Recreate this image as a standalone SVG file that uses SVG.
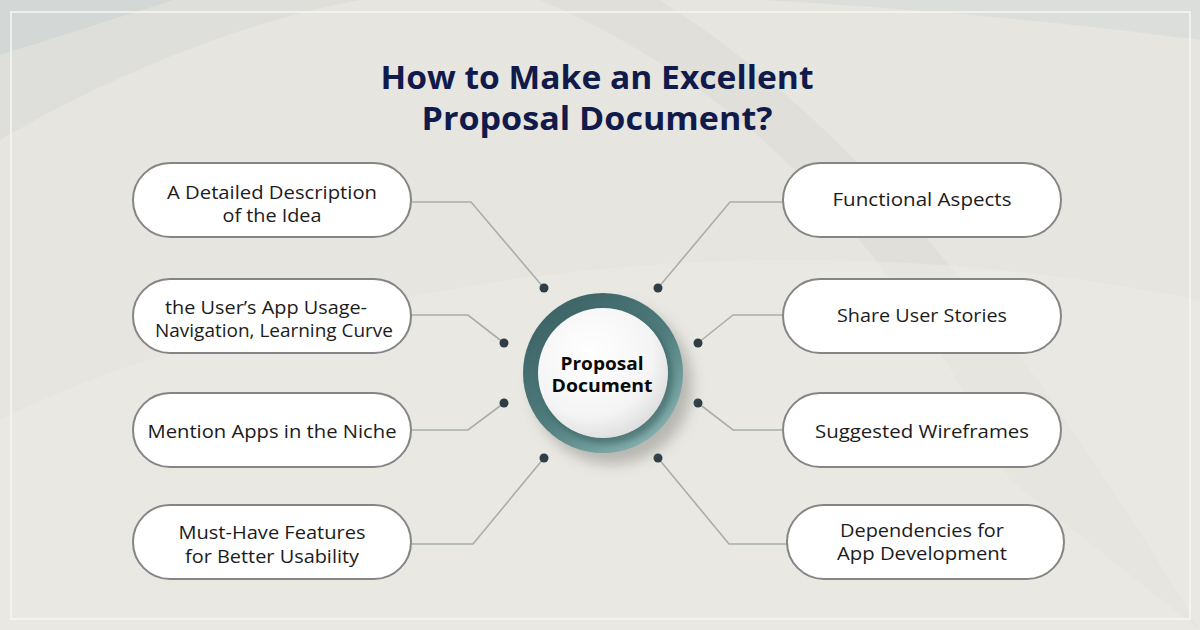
<svg xmlns="http://www.w3.org/2000/svg" width="1200" height="630" viewBox="0 0 1200 630">
<defs>
<style>
.box{fill:#ffffff;stroke:#858585;stroke-width:2}
.lbl{font-family:"Open Sans","Liberation Sans",sans-serif;font-size:18px;font-weight:500;fill:#1c1c1c;text-anchor:middle}
.ttl{font-family:"Open Sans","Liberation Sans",sans-serif;font-size:32px;font-weight:700;fill:#111b4b;text-anchor:middle}
.ctr{font-family:"Open Sans","Liberation Sans",sans-serif;font-size:17px;font-weight:700;fill:#0a0a0a;text-anchor:middle}
.con{fill:none;stroke:#a9aeab;stroke-width:1.6}
.dot{fill:#2e3d46}
</style>
<linearGradient id="ring" x1="0.2" y1="0.1" x2="0.85" y2="0.95">
<stop offset="0" stop-color="#3e6567"/>
<stop offset="0.5" stop-color="#4f7c7d"/>
<stop offset="1" stop-color="#8bb6b5"/>
</linearGradient>
<radialGradient id="inner" cx="0.4" cy="0.35" r="0.7">
<stop offset="0" stop-color="#ffffff"/>
<stop offset="0.7" stop-color="#f4f4f4"/>
<stop offset="1" stop-color="#dcdcdc"/>
</radialGradient>
<filter id="sh" x="-30%" y="-30%" width="170%" height="170%">
<feGaussianBlur stdDeviation="7"/>
</filter>
<filter id="sh2" x="-30%" y="-30%" width="160%" height="160%">
<feGaussianBlur stdDeviation="3"/>
</filter>
</defs>
<g id="background">
<rect x="0" y="0" width="1200" height="630" fill="#e7e5e0"/>
<path d="M0,0 L175,0 C110,20 50,40 0,55 Z" fill="#d3d7d5"/>
<path d="M175,0 C110,20 50,40 0,55 L0,140 C120,70 250,20 360,0 Z" fill="#dedfdb"/>
<path d="M540,0 C750,90 900,250 1010,480 L1200,630 L1200,630 C1050,380 880,140 660,0 Z" fill="#deddd8" opacity="0.8"/>
<path d="M760,0 L1200,0 L1200,40 C1050,20 900,8 760,0 Z" fill="#dcdedb"/>
<path d="M350,310 C600,250 900,240 1200,300 L1200,630 L0,630 L0,420 C120,360 240,330 350,310 Z" fill="#ebe9e5" opacity="0.6"/>
<rect x="11" y="12" width="1179" height="607" fill="none" stroke="#f6f5f2" stroke-width="1.6"/>
</g>
<g id="title">
<text class="ttl" x="597" y="89" textLength="433" lengthAdjust="spacingAndGlyphs">How to Make an Excellent</text>
<text class="ttl" x="597" y="130" textLength="351" lengthAdjust="spacingAndGlyphs">Proposal Document?</text>
</g>
<g id="connectors">
<polyline class="con" points="412,202 471,202 544,288"/>
<polyline class="con" points="412,315 468,315 504,343"/>
<polyline class="con" points="412,430 468,430 504,403"/>
<polyline class="con" points="412,544 473,544 544,458"/>
<polyline class="con" points="783,202 730,202 658,288"/>
<polyline class="con" points="783,315 733,315 698,343"/>
<polyline class="con" points="783,430 733,430 698,403"/>
<polyline class="con" points="787,544 729,544 658,458"/>
<circle class="dot" cx="544" cy="288" r="4.5"/>
<circle class="dot" cx="504" cy="343" r="4.5"/>
<circle class="dot" cx="504" cy="403" r="4.5"/>
<circle class="dot" cx="544" cy="458" r="4.5"/>
<circle class="dot" cx="658" cy="288" r="4.5"/>
<circle class="dot" cx="698" cy="343" r="4.5"/>
<circle class="dot" cx="698" cy="403" r="4.5"/>
<circle class="dot" cx="658" cy="458" r="4.5"/>
</g>
<g id="center">
<circle cx="612" cy="384" r="80" fill="#7a7a74" opacity="0.45" filter="url(#sh)"/>
<circle cx="603" cy="373" r="80" fill="url(#ring)"/>
<circle cx="607" cy="378" r="66" fill="#2f5253" opacity="0.5" filter="url(#sh2)"/>
<circle cx="603" cy="373" r="65" fill="url(#inner)"/>
<text class="ctr" x="602" y="370" textLength="83" lengthAdjust="spacingAndGlyphs">Proposal</text>
<text class="ctr" x="602" y="392" textLength="101" lengthAdjust="spacingAndGlyphs">Document</text>
</g>
<g id="node-l1">
<rect class="box" x="133" y="163" width="278" height="74" rx="37"/>
<text class="lbl" x="272" y="199" textLength="210" lengthAdjust="spacingAndGlyphs">A Detailed Description</text>
<text class="lbl" x="272" y="222" textLength="99" lengthAdjust="spacingAndGlyphs">of the Idea</text>
</g>
<g id="node-l2">
<rect class="box" x="133" y="279" width="278" height="74" rx="37"/>
<text class="lbl" x="266" y="314" textLength="202" lengthAdjust="spacingAndGlyphs">the User’s App Usage-</text>
<text class="lbl" x="274" y="337" textLength="238" lengthAdjust="spacingAndGlyphs">Navigation, Learning Curve</text>
</g>
<g id="node-l3">
<rect class="box" x="133" y="393" width="278" height="74" rx="37"/>
<text class="lbl" x="272" y="438" textLength="249" lengthAdjust="spacingAndGlyphs">Mention Apps in the Niche</text>
</g>
<g id="node-l4">
<rect class="box" x="133" y="505" width="278" height="74" rx="37"/>
<text class="lbl" x="272" y="539" textLength="187" lengthAdjust="spacingAndGlyphs">Must-Have Features</text>
<text class="lbl" x="272" y="563" textLength="174" lengthAdjust="spacingAndGlyphs">for Better Usability</text>
</g>
<g id="node-r1">
<rect class="box" x="783" y="163" width="278" height="74" rx="37"/>
<text class="lbl" x="922" y="206" textLength="179" lengthAdjust="spacingAndGlyphs">Functional Aspects</text>
</g>
<g id="node-r2">
<rect class="box" x="783" y="279" width="278" height="74" rx="37"/>
<text class="lbl" x="922" y="322" textLength="170" lengthAdjust="spacingAndGlyphs">Share User Stories</text>
</g>
<g id="node-r3">
<rect class="box" x="783" y="393" width="278" height="74" rx="37"/>
<text class="lbl" x="922" y="438" textLength="214" lengthAdjust="spacingAndGlyphs">Suggested Wireframes</text>
</g>
<g id="node-r4">
<rect class="box" x="787" y="505" width="277" height="74" rx="37"/>
<text class="lbl" x="922" y="537" textLength="164" lengthAdjust="spacingAndGlyphs">Dependencies for</text>
<text class="lbl" x="922" y="560" textLength="170" lengthAdjust="spacingAndGlyphs">App Development</text>
</g>
</svg>
